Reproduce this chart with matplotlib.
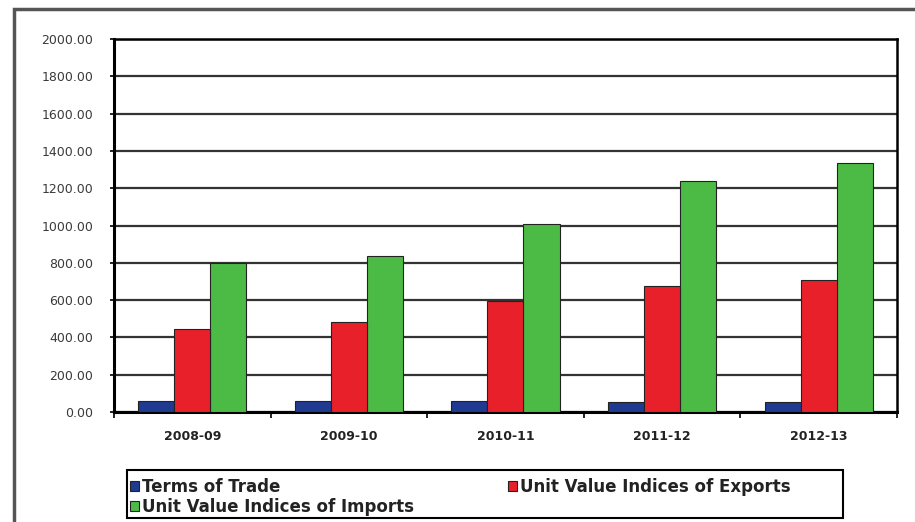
import numpy as np
import matplotlib
matplotlib.use("Agg")
import matplotlib.pyplot as plt
from matplotlib.patches import Rectangle

plt.rcParams["font.family"] = ["DejaVu Sans"]

years = ["2008-09", "2009-10", "2010-11", "2011-12", "2012-13"]
terms_of_trade = [57, 57, 59, 55, 54]
export_index = [445, 483, 595, 676, 708]
import_index = [799, 836, 1008, 1239, 1335]
y_ticks = [0, 200, 400, 600, 800, 1000, 1200, 1400, 1600, 1800, 2000]

blue = "#1f3a8f"
red = "#e8202a"
green = "#4cbb45"

fig = plt.figure(figsize=(9.15, 5.22), dpi=100)
ax = fig.add_axes([0.1246, 0.2107, 0.8557, 0.7146])

# outer chart border
fig.patches.append(Rectangle((14 / 915, -0.05), 1.0, 1 - 9 / 522 + 0.05,
                             transform=fig.transFigure, fill=False,
                             edgecolor="#555555", linewidth=2.5))

x = np.arange(len(years))
w = 0.23
b1 = ax.bar(x - w, terms_of_trade, w, color=blue, edgecolor="#222222", linewidth=0.8, zorder=3)
b3 = ax.bar(x + w, import_index, w, color=green, edgecolor="#222222", linewidth=0.8, zorder=3)
b2 = ax.bar(x, export_index, w, color=red, edgecolor="#222222", linewidth=0.8, zorder=3)

ax.set_xlim(-0.5, len(years) - 0.5)
ax.set_ylim(0, 2000)
ax.set_yticks(y_ticks)
ax.set_yticklabels([f"{v:.2f}" for v in y_ticks], fontsize=9, color="#3a3a3a")
ax.yaxis.grid(True, color="#333333", linewidth=1.6, zorder=0)
ax.tick_params(axis="y", length=3, width=1.2, pad=12)

ax.set_xticks(x)
ax.set_xticklabels(years, fontsize=9, fontweight="bold", color="#222222")
ax.set_xticks(np.arange(-0.5, len(years)), minor=True)
ax.tick_params(axis="x", which="major", length=0, pad=13)
ax.tick_params(axis="x", which="minor", length=4, width=1.2)

for side in ["left", "bottom"]:
    ax.spines[side].set_linewidth(2.2)
for side in ["top", "right"]:
    ax.spines[side].set_linewidth(1.8)

# legend box drawn separately so the columns can sit where they do in the original
fig.patches.append(Rectangle((127 / 915, 1 - 518 / 522), (843 - 127) / 915, 48 / 522,
                             transform=fig.transFigure, fill=False,
                             edgecolor="black", linewidth=1.5))
leg = fig.legend([b1, b3, b2],
                 ["Terms of Trade", "Unit Value Indices of Imports", "Unit Value Indices of Exports"],
                 ncol=2, loc="upper left",
                 bbox_to_anchor=(130 / 915, 1 - 478 / 522),
                 prop={"weight": "bold", "size": 12},
                 frameon=False, columnspacing=5.6,
                 handlelength=0.55, handleheight=0.55, handletextpad=0.2,
                 labelspacing=0.12, borderpad=0, borderaxespad=0)
for t in leg.get_texts():
    t.set_color("#222222")

fig.savefig("out.png", dpi=100)
